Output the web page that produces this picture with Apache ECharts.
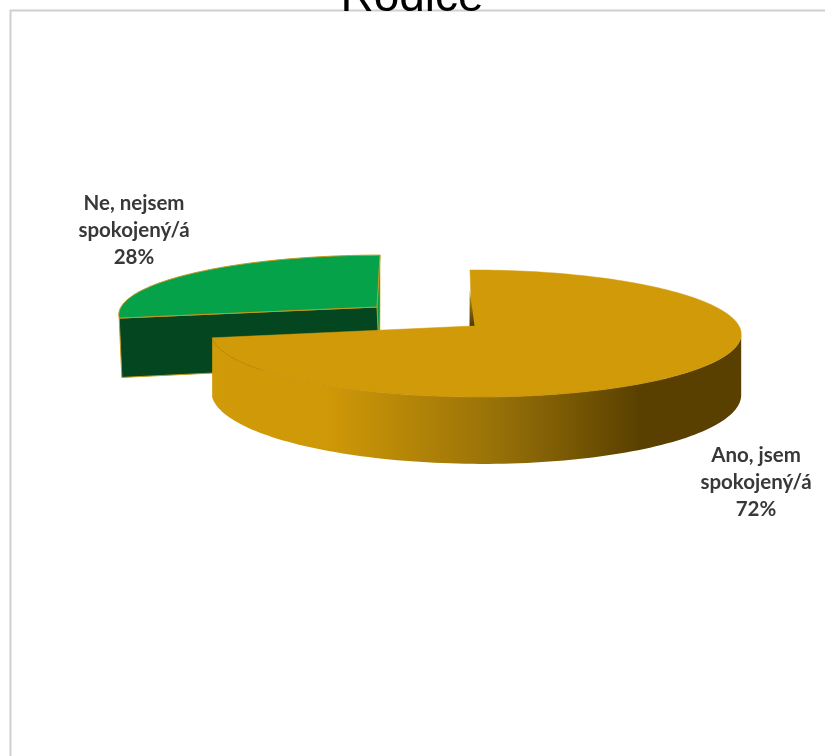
<!DOCTYPE html>
<html>
<head>
<meta charset="utf-8">
<style>html,body{margin:0;padding:0;background:#fff}#c{width:825px;height:756px}</style>
<script src="https://cdn.jsdelivr.net/npm/echarts@6/dist/echarts.min.js"></script>
</head>
<body>
<div id="c"></div>
<script>
const chartTitle = 'Rodiče';
const categories = ['Ano, jsem\nspokojený/á', 'Ne, nejsem\nspokojený/á'];
const values = [72, 28];

// Projection of each pie slice (a tilted disc seen in perspective)
const views = [
  {x0:472, y0:326, A:263, B:62.6, k:0.118, m:-0.015, shear:-0.036, depth:59, drift:0,
   top:'#d09a08', stroke:'#d09a08', z:10, labelX:756, labelY:482},
  {x0:377, y0:307, A:256, B:58,   k:0.118, m:0,      shear:0.058,  depth:58, drift:0.045,
   top:'#05a24a', stroke:'#c39a1e', z:1,  labelX:134, labelY:230}
];
const sideStops = [[0,'#d09a08'],[0.22,'#cf9807'],[0.545,'#967008'],[0.81,'#5a4000'],[1,'#5a4000']];

function project(v, deg, lower) {
  const t = deg * Math.PI / 180, u = Math.sin(t), w = Math.cos(t);
  const s = 1 / (1 + v.k * w + v.m * u);
  const py = v.y0 - v.B * w * s;
  let x = v.x0 + v.A * u * s + v.shear * (v.y0 - py);
  let y = py;
  if (lower) { const d = v.depth * s; y += d; x += v.drift * d; }
  return [x, y];
}
function arc(v, from, to, lower) {
  const pts = [], n = Math.max(2, Math.ceil(Math.abs(to - from) / 1.5));
  for (let i = 0; i <= n; i++) pts.push(project(v, from + (to - from) * i / n, lower));
  return pts;
}
function apex(v, lower) {
  const d = lower ? v.depth : 0;
  return [v.x0 + v.drift * d, v.y0 + d];
}

function renderItem(params, api) {
  const i = params.dataIndex, v = views[i];
  const total = values.reduce((a, b) => a + b, 0);
  const before = values.slice(0, i).reduce((a, b) => a + b, 0);
  const start = before / total * 360, end = (before + api.value(0)) / total * 360;
  const children = [];

  const sideFrom = Math.max(start, 97), sideTo = Math.min(end, 263);
  if (sideTo - sideFrom > 10) {
    const topEdge = arc(v, sideFrom, sideTo, false);
    const lowEdge = arc(v, sideTo, sideFrom, true);
    children.push({type:'polygon', z2:v.z, shape:{points:topEdge.concat(lowEdge)},
      style:{fill:{type:'linear', x:213, y:0, x2:740, y2:0, global:true,
        colorStops:sideStops.map(s => ({offset:s[0], color:s[1]}))}, stroke:null}});
  }
  if (start > 180) {
    // the cut wall facing the viewer, then the sliver of the far wall
    const back = project(v, end, false), backLow = [back[0], project(v, end, true)[1]];
    children.push({type:'polygon', z2:v.z, shape:{points:[back, backLow, apex(v, true), apex(v, false)]},
      style:{fill:'#0b9a4c', stroke:v.stroke, lineWidth:0.6}});
    const edge = project(v, start, false), edgeLow = project(v, start, true);
    children.push({type:'polygon', z2:v.z, shape:{points:[apex(v, false), edge, edgeLow, apex(v, true)]},
      style:{fill:'#03461f', stroke:v.stroke, lineWidth:1}});
  }
  children.push({type:'polygon', z2:v.z + 1, shape:{points:[apex(v, false)].concat(arc(v, start, end, false))},
    style:{fill:v.top, stroke:v.stroke, lineWidth:i === 0 ? 0.5 : 1}});
  if (i === 0) {
    // faint edge between the top face and the rim
    children.push({type:'polyline', z2:v.z + 2, shape:{points:arc(v, Math.max(start, 140), Math.min(end, 263), false)},
      style:{fill:null, stroke:'#b98a08', lineWidth:1, opacity:0.4}});
    // dark wedge of the near wall next to the centre
    const b = project(v, start, false);
    const mid = [b[0] * 0.65 + v.x0 * 0.35 - 1, b[1] * 0.65 + v.y0 * 0.35];
    children.push({type:'polygon', z2:v.z + 2, shape:{points:[mid, [v.x0 - 2.5, v.y0], [v.x0 + 2.5, v.y0 - 0.3]]},
      style:{fill:{type:'linear', x:0, y:mid[1], x2:0, y2:v.y0, global:true,
        colorStops:[{offset:0, color:'#c89508'},{offset:1, color:'#4a3a08'}]}, stroke:null}});
  }
  children.push({type:'text', z2:30, style:{
    text:categories[i] + '\n' + api.value(0) + '%', x:v.labelX, y:v.labelY,
    align:'center', verticalAlign:'middle', fontFamily:'Lato', fontWeight:700, fontSize:20.5,
    lineHeight:27, fill:'#383838'}});
  return {type:'group', children:children};
}

const chart = echarts.init(document.getElementById('c'), null, {renderer:'canvas'});
chart.setOption({
  backgroundColor:'#ffffff',
  animation:false,
  graphic:[
    {type:'polyline', z:-1, silent:true, shape:{points:[[10.5,756],[10.5,10.5],[825,10.5]]},
     style:{fill:null, stroke:'#cfcfcf', lineWidth:2}},
    {type:'text', z:5, silent:true, style:{text:chartTitle, x:412, y:21, align:'center', verticalAlign:'bottom',
     fontFamily:'Liberation Sans', fontSize:46, fill:'#000000'}}
  ],
  series:[{type:'custom', coordinateSystem:'none', renderItem:renderItem, data:values, silent:true, clip:false}]
});
</script>
</body>
</html>
